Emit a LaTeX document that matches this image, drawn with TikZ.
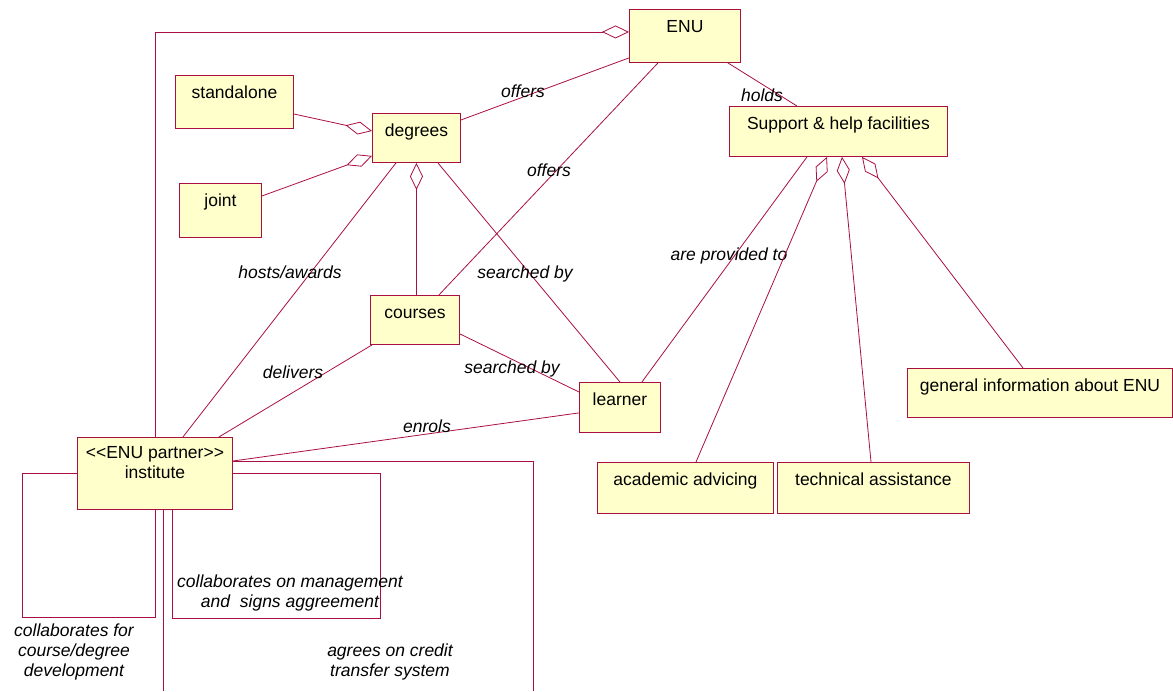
\documentclass[tikz,border=0pt]{standalone}
\usepackage{fontspec}
\setmainfont{Liberation Sans}
\usepackage{tikz}
\usetikzlibrary{
    arrows.meta,
    calc,
    positioning
}
\definecolor{umlred}{RGB}{170,15,65}
\definecolor{umlfill}{RGB}{255,255,204}
\tikzset
{
  classbox/.style={draw=umlred,fill=umlfill,line width=0.9pt,anchor=north west,inner xsep=0pt,inner ysep=0pt,text height=23pt,font=\fontsize{17.5pt}{20pt}\selectfont},
  assoc/.style={draw=umlred,line width=0.8pt},
  aggr/.style={draw=umlred,line width=0.8pt,{Diamond[open,length=27pt,width=13pt]}-},
  rolename/.style={font=\fontsize{17.5pt}{20pt}\selectfont\itshape,inner sep=1pt}
}

\begin{document}
\begin{tikzpicture}[x=1pt,y=-1pt]

    % Fix the frame of the picture
    \useasboundingbox[fill=white] (0,0) rectangle (1173,691);

    % Draw the classes
    \node[classbox, minimum width=111pt, text depth=30pt] (enu) at (629,9) {ENU};
    \node[classbox, minimum width=118pt, text depth=30pt] (standalone) at (175,75) {standalone};
    \node[classbox, minimum width=88pt, text depth=26pt] (degrees) at (372,113) {degrees};
    \node[classbox, minimum width=82pt, text depth=31pt] (joint) at (179,183) {joint};
    \node[classbox, minimum width=218pt, text depth=27pt] (support) at (729,106) {Support \& help facilities};
    \node[classbox, minimum width=89pt, text depth=26pt] (courses) at (370,295) {courses};
    \node[classbox, minimum width=81pt, text depth=27pt] (learner) at (579,382) {learner};
    \node[classbox, minimum width=265pt, text depth=26pt] (general) at (907,368) {general information about ENU};
    \node[classbox, minimum width=176pt, text depth=28pt] (advicing) at (597,462) {academic advicing};
    \node[classbox, minimum width=192pt, text depth=28pt] (technical) at (777,462) {technical assistance};
    \node[classbox, minimum width=155pt, text height=41pt, text depth=31pt, align=center] (institute) at (77,437) {<{}<ENU partner>{}> \\ institute};

    % Draw the aggregation from ENU to the partner institute
    \draw[aggr] ([yshift=4pt]enu.west) -| (institute.north);

    % Draw the associations of ENU
    \draw[assoc] ([yshift=5pt]enu.south west) -- ([yshift=-7pt]degrees.north east);
    \node[rolename] (offersdeg) at (523,91) {offers};
    \draw[assoc] ([xshift=29pt]enu.south west) -- ([xshift=-21pt]courses.north east);
    \node[rolename] (offerscrs) at (549,170) {offers};
    \draw[assoc] ([xshift=-13pt]enu.south east) -- ([xshift=68pt]support.north west);
    \node[rolename] (holds) at (762,95) {holds};

    % Draw the kinds of degrees
    \draw[aggr] ([yshift=-18pt]degrees.north west) -- ([yshift=-39pt]standalone.north east);
    \draw[aggr] ([yshift=7pt]degrees.south west) -- ([yshift=-13pt]joint.north east);
    \draw[aggr] (degrees.south) -- (degrees.south |- courses.north);

    % Draw the associations of degrees and courses
    \draw[assoc] ([xshift=-23pt]degrees.south east) -- (learner.north);
    \node[rolename] (searchdeg) at (525,274) {searched by};
    \draw[assoc] ([xshift=24pt]degrees.south west) -- ([xshift=-50pt]institute.north east);
    \node[rolename] (hosts) at (290,272) {hosts/awards};
    \draw[assoc] ([yshift=11pt]courses.south east) -- ([yshift=-10pt]learner.north west);
    \node[rolename] (searchcrs) at (512,369) {searched by};
    \draw[assoc] ([xshift=2pt]courses.south west) -- ([xshift=-14pt]institute.north east);
    \node[rolename] (delivers) at (293,372) {delivers};
    \draw[assoc] ([yshift=20pt]learner.south west) -- ([yshift=-24pt]institute.north east);
    \node[rolename] (enrols) at (427,426) {enrols};

    % Draw the support facilities
    \draw[assoc] ([xshift=78pt]support.south west) -- ([xshift=-19pt]learner.north east);
    \node[rolename] (provided) at (729,256) {are provided to};
    \draw[aggr] ([xshift=98pt]support.south west) -- ([xshift=99pt]advicing.north west);
    \draw[aggr] ([xshift=113pt]support.south west) -- ([xshift=94pt]technical.north west);
    \draw[aggr] ([xshift=133pt]support.south west) -- ([xshift=116pt]general.north west);

    % Draw the collaborations of the partner institute
    \coordinate (devcorner) at (22,617);
    \coordinate (mgmtcorner) at (380,618);
    \coordinate (creditend) at (163,691);
    \coordinate (creditcorner) at (533,691);
    \draw[assoc] ([yshift=-36pt]institute.north west) -| (devcorner) -| (institute.south);
    \node[rolename, align=center] (develop) at (74,652) {collaborates for\\course/degree\\development};
    \draw[assoc] ([yshift=-36pt]institute.north east) -| (mgmtcorner) -| ([xshift=95pt]institute.south west);
    \node[rolename, align=center] (manage) at (290,593) {collaborates on management\\and\ \ signs aggreement};
    \draw[assoc] ([xshift=86pt]institute.south west) -- (creditend);
    \draw[assoc] ([yshift=-24pt]institute.north east) -| (creditcorner);
    \node[rolename, align=center] (credit) at (390,662) {agrees on credit\\transfer system};

\end{tikzpicture}
\end{document}
